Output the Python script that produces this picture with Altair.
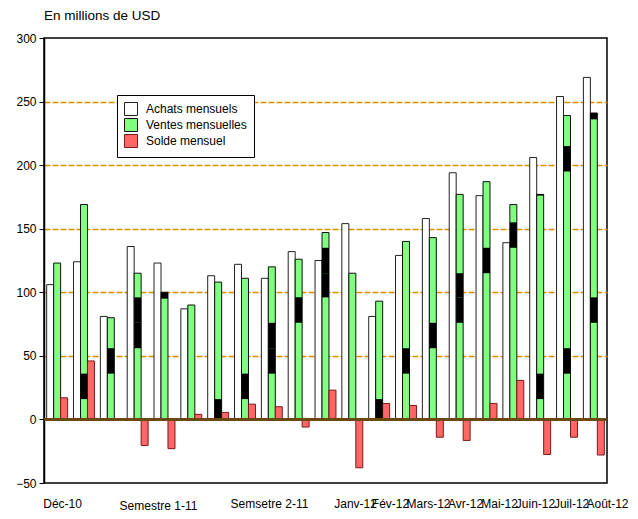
import altair as alt
import pandas as pd

groups = [f"G{i:02d}" for i in range(1, 22)]
achats = [106, 124, 81, 136, 123, 87, 113, 122, 111, 132, 125, 154, 81, 129, 158, 194, 176, 139, 206, 254, 269]
ventes = [123, 169, 80, 115, 100, 90, 108, 111, 120, 126, 147, 115, 93, 140, 143, 177, 187, 169, 177, 239, 241]
solde = [17, 46, 0.5, -20.5, -23, 4, 5.5, 12, 10, -6, 23, -38, 12.6, 11, -14, -16.5, 12.6, 30.7, -27.6, -14, -28]
series = ["Achats mensuels", "Ventes mensuelles", "Solde mensuel"]

# black patches visible inside the "Ventes mensuelles" bars (group number, low, high)
noir_groupe = [2, 3, 4, 4, 5, 7, 8, 9, 9, 10, 11, 11, 13, 14, 15, 16, 16, 17, 18, 19, 19, 20, 20, 21, 21]
noir_bas = [16, 36, 56, 76, 95, 0, 16, 36, 56, 76, 96, 115, 0, 36, 56, 76, 96, 115, 135, 176, 16, 195, 36, 236, 76]
noir_haut = [36, 56, 76, 96, 100, 16, 36, 56, 76, 96, 115, 135, 16, 56, 76, 96, 115, 135, 155, 177, 36, 215, 56, 241, 96]

x_labels = ["Déc-10", "Semestre 1-11", "Semsetre 2-11", "Janv-12", "Fév-12", "Mars-12",
            "Avr-12", "Mai-12", "Juin-12", "Juil-12", "Août-12"]
x_label_at = [0.77, 4.86, 9.59, 13.26, 14.75, 16.37, 17.95, 19.4, 20.93, 22.47, 24]
y_ticks = [-50, 0, 50, 100, 150, 200, 250, 300]

rows = []
for i, g in enumerate(groups):
    for s, vals in zip(series, [achats, ventes, solde]):
        rows.append({"groupe": g, "serie": s, "valeur": vals[i]})
df = pd.DataFrame(rows)

df_noir = pd.DataFrame({
    "groupe": [groups[g - 1] for g in noir_groupe],
    "serie": [series[1]] * len(noir_groupe),
    "bas": noir_bas,
    "haut": noir_haut,
})

FONT = "Liberation Sans"
W, H = 563, 445

label_expr = ("[" + ",".join(f"'{l}'" for l in x_labels) + "][indexof(["
              + ",".join(str(p) for p in x_label_at) + "], datum.value)]")

y_scale = alt.Scale(domain=[-50, 300], nice=False, zero=False)
y_axis = alt.Axis(values=y_ticks, title=None, labelFont=FONT, labelFontSize=12, labelColor="black",
                  tickColor="black", tickSize=5, domainColor="black", domainWidth=1.5,
                  grid=True, gridColor="#D98C00", gridDash=[6, 2], gridWidth=1.5,
                  gridOpacity={"condition": {"test": "datum.value <= 0 || datum.value >= 300", "value": 0},
                               "value": 1},
                  labelPadding=3)

x_band = alt.X("groupe:N", axis=None,
               scale=alt.Scale(domain=groups, paddingInner=0.22, paddingOuter=0.1))
x_off = alt.XOffset("serie:N", scale=alt.Scale(domain=series, paddingInner=0, paddingOuter=0))

bars = alt.Chart(df).mark_bar(strokeWidth=1).encode(
    x=x_band,
    xOffset=x_off,
    y=alt.Y("valeur:Q", scale=y_scale, axis=y_axis),
    fill=alt.Fill("serie:N",
                  scale=alt.Scale(domain=series, range=["white", "#80FF80", "#FF6666"]),
                  legend=alt.Legend(title=None, orient="none", legendX=73, legendY=57,
                                    fillColor="white", strokeColor="black", padding=7,
                                    symbolType="square", symbolSize=169, symbolStrokeColor="black",
                                    symbolStrokeWidth=1, labelFont=FONT, labelFontSize=12,
                                    labelColor="black", rowPadding=-8, labelOffset=8)),
    stroke=alt.Stroke("serie:N",
                      scale=alt.Scale(domain=series, range=["#222222", "#111111", "#7A1A1A"]),
                      legend=None),
)

noir = alt.Chart(df_noir).mark_bar(color="black").encode(
    x=x_band,
    xOffset=x_off,
    y=alt.Y("bas:Q", scale=y_scale),
    y2="haut:Q",
)

zero = alt.Chart(df).mark_rule(color="#6B4A10", strokeWidth=1.5).encode(y=alt.datum(0))

lab = alt.Chart(pd.DataFrame({"v": [0]})).mark_point(opacity=0).encode(
    x=alt.X("v:Q", scale=alt.Scale(domain=[0, 24], nice=False, zero=False),
            axis=alt.Axis(values=x_label_at, labelExpr=label_expr, title=None, ticks=False, domain=False,
                          grid=False, labelOverlap=False, labelFlush=False, labelBound=False,
                          labelFont=FONT, labelFontSize=12, labelColor="black",
                          labelPadding={"condition": {"test": "datum.value > 4 && datum.value < 5", "value": 17},
                                        "value": 15.5})),
    y=alt.datum(0),
)

chart = alt.layer(bars, noir, zero, lab).resolve_scale(x="independent").properties(
    width=W, height=H,
    autosize=alt.AutoSizeParams(type="none"),
    padding={"left": 36, "top": 30, "right": 23, "bottom": 28},
    title=alt.TitleParams("En millions de USD", anchor="start", frame="group", font=FONT,
                          fontSize=13.5, fontWeight="normal", color="black", offset=10),
).configure(font=FONT).configure_view(stroke="black", strokeWidth=1.5)

chart.save("out.html", embed_options={"renderer": "svg", "actions": False})
